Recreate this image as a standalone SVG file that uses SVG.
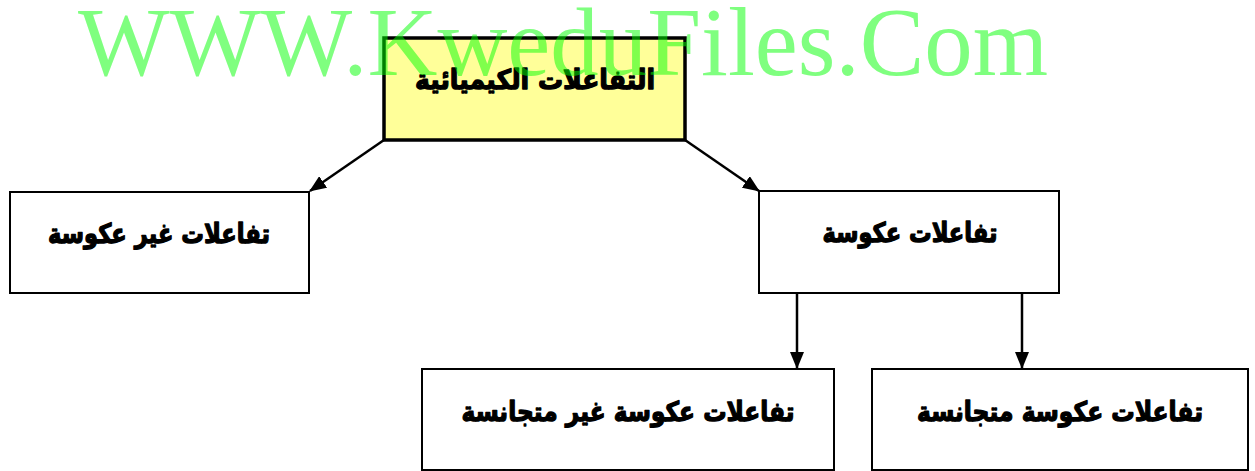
<svg xmlns="http://www.w3.org/2000/svg" width="1255" height="471" viewBox="0 0 1255 471">
<style>
.box{fill:#ffffff;stroke:#000;stroke-width:2}
.top{fill:#ffff99;stroke:#000;stroke-width:3.5}
.lbl{font-family:"DejaVu Sans",sans-serif;font-weight:bold;font-size:27px;fill:#000;stroke:#000;stroke-width:1.3;stroke-linejoin:round;text-anchor:middle}
.wm{font-family:"Liberation Serif",serif;font-size:98px;fill:#00ff00;fill-opacity:0.5}
.edge{stroke:#000;stroke-width:2.5;fill:none;marker-end:url(#ah)}
</style>
<defs>
<marker id="ah" viewBox="0 0 17 14" refX="16" refY="7" markerWidth="17" markerHeight="14" markerUnits="userSpaceOnUse" orient="auto">
<path d="M0,0 L17,7 L0,14 z" fill="#000"/>
</marker>
</defs>
<rect width="1255" height="471" fill="#fff"/>
<g id="n-main">
<rect class="top" x="384" y="38" width="301" height="102"/>
<text class="lbl" x="535" y="89" direction="rtl" textLength="240" lengthAdjust="spacingAndGlyphs">التفاعلات الكيميائية</text>
</g>
<g id="n-irrev">
<rect class="box" x="10" y="192" width="299" height="101"/>
<text class="lbl" x="159" y="243" direction="rtl" textLength="222" lengthAdjust="spacingAndGlyphs">تفاعلات غير عكوسة</text>
</g>
<g id="n-rev">
<rect class="box" x="759" y="191" width="300" height="102"/>
<text class="lbl" x="910" y="242" direction="rtl" textLength="175" lengthAdjust="spacingAndGlyphs">تفاعلات عكوسة</text>
</g>
<g id="n-hetero">
<rect class="box" x="422" y="369" width="412" height="101"/>
<text class="lbl" x="628" y="421" direction="rtl" textLength="333" lengthAdjust="spacingAndGlyphs">تفاعلات عكوسة غير متجانسة</text>
</g>
<g id="n-homo">
<rect class="box" x="872" y="369" width="376" height="101"/>
<text class="lbl" x="1060" y="421" direction="rtl" textLength="286" lengthAdjust="spacingAndGlyphs">تفاعلات عكوسة متجانسة</text>
</g>
<g id="connectors">
<line class="edge" x1="384" y1="140" x2="310" y2="191"/>
<line class="edge" x1="685" y1="140" x2="759" y2="191"/>
<line class="edge" x1="797" y1="293" x2="797" y2="368"/>
<line class="edge" x1="1022" y1="293" x2="1022" y2="368"/>
</g>
<text class="wm" x="78" y="75" textLength="970" lengthAdjust="spacingAndGlyphs">WWW.KweduFiles.Com</text>
</svg>
